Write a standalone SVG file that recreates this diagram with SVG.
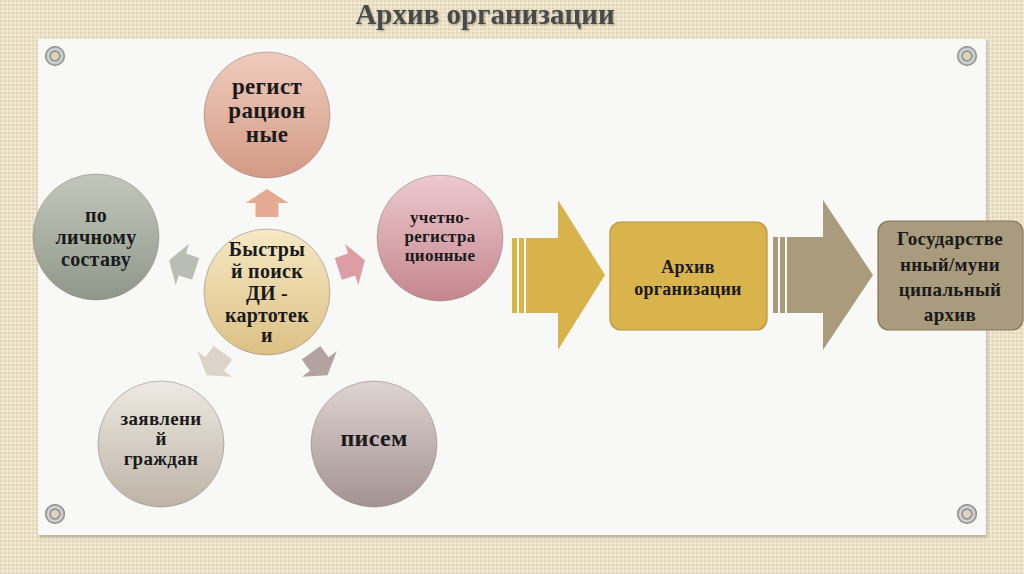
<svg xmlns="http://www.w3.org/2000/svg" width="1024" height="574" viewBox="0 0 1024 574">
<defs>
  <pattern id="canvas" width="4" height="4" patternUnits="userSpaceOnUse">
    <rect width="4" height="4" fill="#ece2ca"/>
    <rect x="0" y="0" width="2" height="2" fill="#e2d6b9"/>
    <rect x="2" y="2" width="2" height="2" fill="#f1e9d5"/>
  </pattern>
  <filter id="shadow" x="-5%" y="-5%" width="110%" height="115%">
    <feGaussianBlur in="SourceAlpha" stdDeviation="1.5"/>
    <feOffset dx="1" dy="1.5"/>
    <feComponentTransfer><feFuncA type="linear" slope="0.25"/></feComponentTransfer>
    <feMerge><feMergeNode/><feMergeNode in="SourceGraphic"/></feMerge>
  </filter>
  <filter id="tshadow">
    <feGaussianBlur in="SourceAlpha" stdDeviation="1"/>
    <feOffset dx="1" dy="1"/>
    <feComponentTransfer><feFuncA type="linear" slope="0.3"/></feComponentTransfer>
    <feMerge><feMergeNode/><feMergeNode in="SourceGraphic"/></feMerge>
  </filter>
  <linearGradient id="gTop" x1="0" y1="0" x2="0" y2="1"><stop offset="0" stop-color="#efcbbd"/><stop offset="1" stop-color="#d39a84"/></linearGradient>
  <linearGradient id="gLeft" x1="0" y1="0" x2="0" y2="1"><stop offset="0" stop-color="#c2c7bb"/><stop offset="1" stop-color="#8f978a"/></linearGradient>
  <linearGradient id="gCenter" x1="0" y1="0" x2="0" y2="1"><stop offset="0" stop-color="#f6e8c4"/><stop offset="1" stop-color="#dcc084"/></linearGradient>
  <linearGradient id="gRight" x1="0" y1="0" x2="0" y2="1"><stop offset="0" stop-color="#ecc9cd"/><stop offset="1" stop-color="#c5868e"/></linearGradient>
  <linearGradient id="gBL" x1="0" y1="0" x2="0" y2="1"><stop offset="0" stop-color="#eee9e2"/><stop offset="1" stop-color="#bdb3a6"/></linearGradient>
  <linearGradient id="gBR" x1="0" y1="0" x2="0" y2="1"><stop offset="0" stop-color="#ddd4d2"/><stop offset="1" stop-color="#a39290"/></linearGradient>
  <radialGradient id="grom" cx="0.5" cy="0.5" r="0.5">
    <stop offset="0.35" stop-color="#ddd3bc"/>
    <stop offset="0.45" stop-color="#8d8d8d"/>
    <stop offset="0.7" stop-color="#dedede"/>
    <stop offset="0.9" stop-color="#9a9a9a"/>
    <stop offset="1" stop-color="#6f6f6f"/>
  </radialGradient>
  <path id="sa" d="M75,-11.5 L89,-11.5 L89,-21.5 L103,0 L89,21.5 L89,11.5 L75,11.5 Z"/>
  <style>
    .node { stroke: #8f857d; stroke-width: 0.8; stroke-opacity: 0.7; }
    .t { font-family: "Liberation Serif", "DejaVu Serif", serif; font-weight: bold; fill: #1a1a1a; text-anchor: middle; letter-spacing: 0.3px; }
    .title { font-family: "Liberation Serif", "DejaVu Serif", serif; font-weight: bold; fill: #4a4a4a; text-anchor: middle; font-size: 29px; }
    .grom { fill: url(#grom); }
  </style>
</defs>

<!-- background -->
<rect width="1024" height="574" fill="url(#canvas)"/>
<rect x="38" y="39" width="948" height="496" fill="#f8f8f7" filter="url(#shadow)"/>

<!-- grommets -->
<g id="grommets">
  <circle class="grom" cx="55" cy="56" r="10"/>
  <circle class="grom" cx="967" cy="56" r="10"/>
  <circle class="grom" cx="55" cy="514" r="10"/>
  <circle class="grom" cx="967" cy="514" r="10"/>
</g>

<text class="title" x="485" y="24" filter="url(#tshadow)">Архив организации</text>

<!-- connectors -->
<g id="connectors">
  <use href="#sa" transform="translate(267,292) rotate(-90)" fill="#e4ab92"/>
  <use href="#sa" transform="translate(267,292) rotate(-18)" fill="#dc9ea4"/>
  <use href="#sa" transform="translate(267,292) rotate(54)" fill="#b3a3a0"/>
  <use href="#sa" transform="translate(267,292) rotate(126)" fill="#dcd4c8"/>
  <use href="#sa" transform="translate(267,292) rotate(198)" fill="#b9beb4"/>
  <g fill="#d8b24b">
    <rect x="512" y="238" width="5" height="75"/>
    <rect x="519" y="238" width="5" height="75"/>
    <path d="M526,238 L558,238 L558,200 L605,275 L558,350 L558,313 L526,313 Z"/>
  </g>
  <g fill="#a99b7c">
    <rect x="773" y="237" width="5" height="76"/>
    <rect x="780" y="237" width="5" height="76"/>
    <path d="M787,237 L823,237 L823,200 L873,275 L823,350 L823,313 L787,313 Z"/>
  </g>
</g>

<!-- nodes -->
<g id="node-top">
  <circle class="node" cx="267" cy="115" r="63" fill="url(#gTop)"/>
  <text class="t" font-size="23"><tspan x="267" y="94">регист</tspan><tspan x="267" y="118">рацион</tspan><tspan x="267" y="142">ные</tspan></text>
</g>
<g id="node-left">
  <circle class="node" cx="96" cy="237" r="63" fill="url(#gLeft)"/>
  <text class="t" font-size="20"><tspan x="96" y="222">по</tspan><tspan x="96" y="244">личному</tspan><tspan x="96" y="266">составу</tspan></text>
</g>
<g id="node-center">
  <circle class="node" cx="267" cy="292" r="63" fill="url(#gCenter)"/>
  <text class="t" font-size="20"><tspan x="267" y="256">Быстры</tspan><tspan x="267" y="278">й поиск</tspan><tspan x="267" y="300">ДИ -</tspan><tspan x="267" y="322">картотек</tspan><tspan x="267" y="342">и</tspan></text>
</g>
<g id="node-right">
  <circle class="node" cx="440" cy="238" r="63" fill="url(#gRight)"/>
  <text class="t" font-size="17"><tspan x="440" y="223">учетно-</tspan><tspan x="440" y="242">регистра</tspan><tspan x="440" y="261">ционные</tspan></text>
</g>
<g id="node-bottom-left">
  <circle class="node" cx="161" cy="444" r="63" fill="url(#gBL)"/>
  <text class="t" font-size="19"><tspan x="161" y="425">заявлени</tspan><tspan x="161" y="445">й</tspan><tspan x="161" y="465">граждан</tspan></text>
</g>
<g id="node-bottom-right">
  <circle class="node" cx="374" cy="444" r="63" fill="url(#gBR)"/>
  <text class="t" font-size="24" x="374" y="446">писем</text>
</g>
<g id="node-archive">
  <rect x="610" y="222" width="157" height="108" rx="11" fill="#d9b44d" stroke="#b8953a" stroke-width="1.2"/>
  <text class="t" font-size="18"><tspan x="688" y="273">Архив</tspan><tspan x="688" y="295">организации</tspan></text>
</g>
<g id="node-state">
  <rect x="878" y="221" width="145" height="109" rx="11" fill="#a99b7d" stroke="#857859" stroke-width="1.2"/>
  <text class="t" font-size="19"><tspan x="950" y="245">Государстве</tspan><tspan x="950" y="271">нный/муни</tspan><tspan x="950" y="296">ципальный</tspan><tspan x="950" y="321">архив</tspan></text>
</g>
</svg>
